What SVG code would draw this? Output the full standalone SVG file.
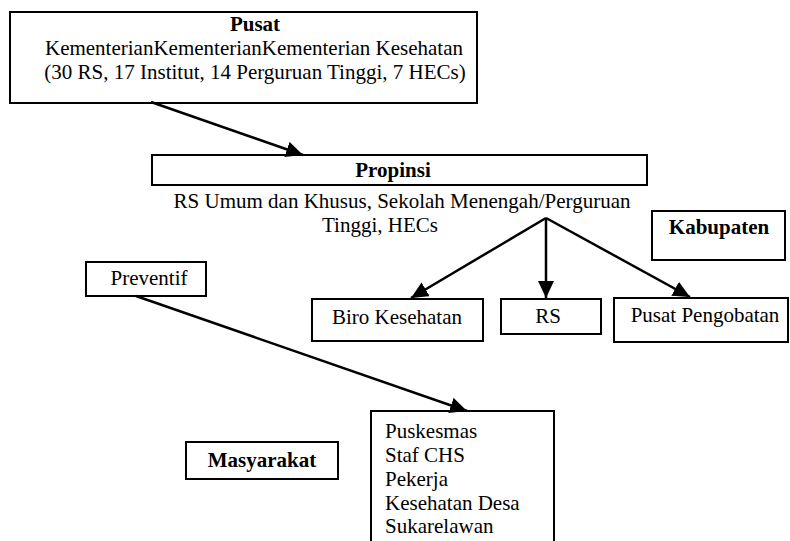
<svg xmlns="http://www.w3.org/2000/svg" width="790" height="541" viewBox="0 0 790 541">
<style>
.box{fill:#fff;stroke:#000;stroke-width:2}
.t{font-family:"Liberation Serif","Times New Roman",serif;font-size:21px;fill:#000}
.b{font-weight:bold}
.c{text-anchor:middle}
.ln{stroke:#000;stroke-width:2.5;fill:none}
</style>
<defs>
<marker id="ah" markerUnits="userSpaceOnUse" markerWidth="18" markerHeight="16" refX="17" refY="8" orient="auto">
<path d="M0,0 L17,8 L0,16 Z" fill="#000"/>
</marker>
</defs>
<rect width="790" height="541" fill="#fff"/>
<g id="pusat">
<rect class="box" x="10" y="12" width="467" height="91"/>
<text class="t b c" x="255" y="31">Pusat</text>
<text class="t c" x="254" y="55">KementerianKementerianKementerian Kesehatan</text>
<text class="t c" x="255" y="79">(30 RS, 17 Institut, 14 Perguruan Tinggi, 7 HECs)</text>
</g>
<g id="propinsi">
<rect class="box" x="152" y="155" width="495" height="30"/>
<text class="t b c" x="393" y="177">Propinsi</text>
<text class="t c" x="402" y="208">RS Umum dan Khusus, Sekolah Menengah/Perguruan</text>
<text class="t c" x="380" y="232">Tinggi, HECs</text>
</g>
<g id="kabupaten">
<rect class="box" x="652" y="211" width="133" height="49"/>
<text class="t b c" x="719" y="234">Kabupaten</text>
</g>
<g id="preventif">
<rect class="box" x="86" y="262" width="120" height="34"/>
<text class="t c" x="149" y="285">Preventif</text>
</g>
<g id="biro">
<rect class="box" x="312" y="299" width="171" height="42"/>
<text class="t c" x="397" y="324">Biro Kesehatan</text>
</g>
<g id="rs">
<rect class="box" x="501" y="299" width="100" height="35"/>
<text class="t c" x="548" y="323">RS</text>
</g>
<g id="pusat-pengobatan">
<rect class="box" x="614" y="298" width="174" height="44"/>
<text class="t c" x="705" y="322">Pusat Pengobatan</text>
</g>
<g id="masyarakat">
<rect class="box" x="186" y="442" width="152" height="37"/>
<text class="t b c" x="262" y="467">Masyarakat</text>
</g>
<g id="puskesmas">
<rect class="box" x="371" y="411" width="183" height="140"/>
<text class="t" x="385" y="438">Puskesmas</text>
<text class="t" x="385" y="462">Staf CHS</text>
<text class="t" x="385" y="486">Pekerja</text>
<text class="t" x="385" y="510">Kesehatan Desa</text>
<text class="t" x="385" y="533">Sukarelawan</text>
</g>
<g id="connectors">
<line class="ln" x1="151" y1="102" x2="303" y2="155" marker-end="url(#ah)"/>
<line class="ln" x1="546" y1="218" x2="411" y2="298" marker-end="url(#ah)"/>
<line class="ln" x1="546" y1="218" x2="546" y2="298" marker-end="url(#ah)"/>
<line class="ln" x1="546" y1="218" x2="690" y2="297" marker-end="url(#ah)"/>
<line class="ln" x1="136" y1="296" x2="467" y2="411" marker-end="url(#ah)"/>
</g>
</svg>
